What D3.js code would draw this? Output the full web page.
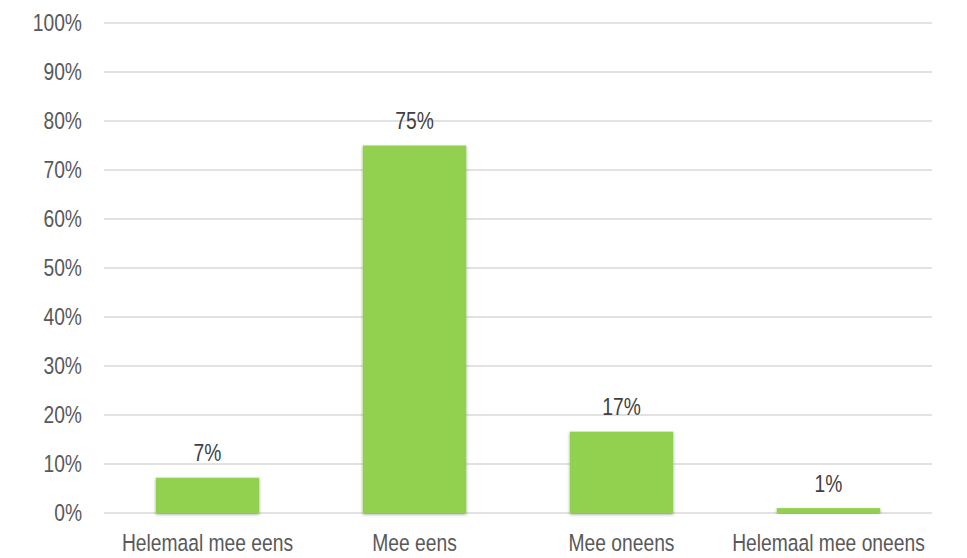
<!DOCTYPE html>
<html><head><meta charset="utf-8">
<script src="https://cdn.jsdelivr.net/npm/d3@7"></script>
<style>
html,body{margin:0;padding:0;background:#fff;}
svg{display:block;}
</style></head>
<body><svg id="chart" width="967" height="558"></svg>
<script>
const categories = ["Helemaal mee eens", "Mee eens", "Mee oneens", "Helemaal mee oneens"];
const values = [7.2, 75, 16.6, 1];
const valueLabels = ["7%", "75%", "17%", "1%"];
const yTicks = [0, 10, 20, 30, 40, 50, 60, 70, 80, 90, 100];

const svg = d3.select("#chart");
const margin = {left: 104, right: 35, top: 23, bottom: 45};
const W = 967, H = 558;

const fontSize = 23.5;
const fam = "'Liberation Sans', Arial, sans-serif";
const sx = 0.82;

const x = d3.scaleBand().domain(categories).range([margin.left, W - margin.right]).paddingInner(0.5).paddingOuter(0.25);
const y = d3.scaleLinear().domain([0, 100]).range([H - margin.bottom, margin.top]);

const defs = svg.append("defs");
const f = defs.append("filter").attr("id", "sh").attr("x", "-10%").attr("y", "-10%").attr("width", "120%").attr("height", "130%");
f.append("feDropShadow").attr("dx", 0).attr("dy", 1.5).attr("stdDeviation", 1.5).attr("flood-color", "#000").attr("flood-opacity", 0.35);

// gridlines
svg.append("g").selectAll("line").data(yTicks).join("line")
  .attr("x1", margin.left).attr("x2", W - margin.right)
  .attr("y1", d => y(d)).attr("y2", d => y(d))
  .attr("stroke", "#d9d9d9").attr("stroke-width", 1.3);

function addText(g, xx, yy, txt, anchor, color) {
  return g.append("text")
    .attr("transform", `translate(${xx},${yy}) scale(${sx},1)`)
    .attr("text-anchor", anchor).attr("font-family", fam).attr("font-size", fontSize)
    .attr("fill", color).text(txt);
}

// y labels
const gy = svg.append("g");
yTicks.forEach(t => addText(gy, 82, y(t) + 8.3, t + "%", "end", "#595959"));

// bars
svg.append("g").selectAll("rect").data(values).join("rect")
  .attr("x", (d, i) => x(categories[i])).attr("width", x.bandwidth())
  .attr("y", d => y(d)).attr("height", d => y(0) - y(d))
  .attr("fill", "#92d050").attr("filter", "url(#sh)");

// value labels
const gv = svg.append("g");
values.forEach((v, i) => addText(gv, x(categories[i]) + x.bandwidth() / 2, y(v) - 16.5, valueLabels[i], "middle", "#404040"));

// x labels
const gx = svg.append("g");
categories.forEach(c => addText(gx, x(c) + x.bandwidth() / 2, 550.5, c, "middle", "#595959"));
</script></body></html>
